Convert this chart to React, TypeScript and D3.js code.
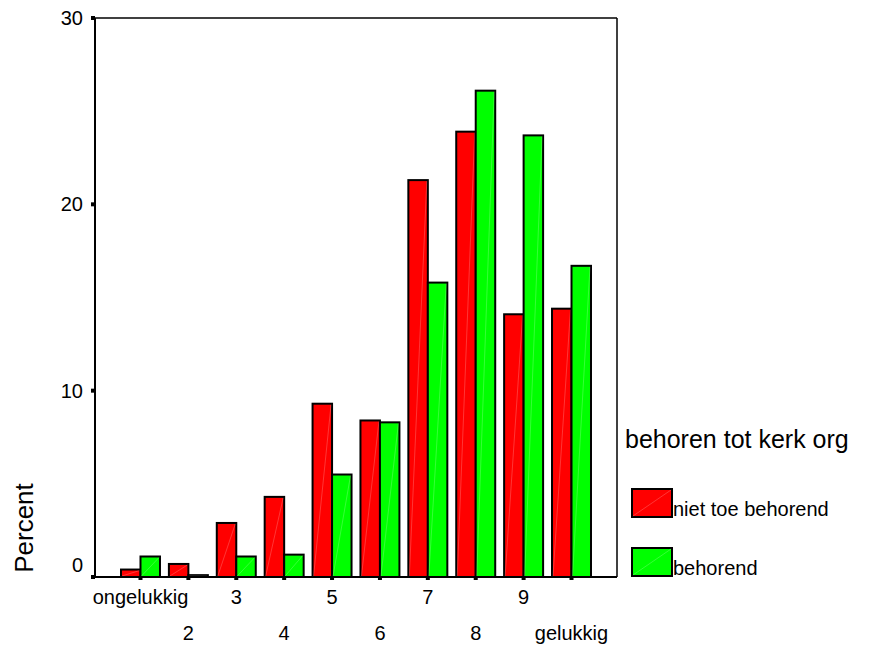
import React from "react";
import * as d3 from "d3";

const categories = ["ongelukkig", "2", "3", "4", "5", "6", "7", "8", "9", "gelukkig"];
const nietToeBehorend = [0.4, 0.7, 2.9, 4.3, 9.3, 8.4, 21.3, 23.9, 14.1, 14.4];
const behorend = [1.1, 0.1, 1.1, 1.2, 5.5, 8.3, 15.8, 26.1, 23.7, 16.7];
const seriesNames = ["niet toe behorend", "behorend"];
const seriesColors = ["#ff0000", "#00ff00"];
const yTicks = [0, 10, 20, 30];
const legendTitle = "behoren tot kerk org";
const yTitle = "Percent";

const W = 872;
const H = 646;
const left = 95;
const right = 617;
const top = 18;
const bottom = 577;
const font = "Liberation Sans, Arial, Helvetica, sans-serif";

export default function App() {
  const x = d3.scaleBand<string>().domain(categories).range([left, right]).paddingInner(0.186).paddingOuter(0.543);
  const sub = d3.scaleBand<number>().domain([0, 1]).range([0, x.bandwidth()]).padding(0);
  const y = d3.scaleLinear().domain([0, 30]).range([bottom, top]);
  const series = [nietToeBehorend, behorend];

  return (
    <div style={{ position: "absolute", left: 0, top: 0 }}>
      <svg width={W} height={H} style={{ display: "block", background: "#fff" }} fontFamily={font}>
        {/* frame */}
        <line x1={left} x2={right} y1={top} y2={top} stroke="#000" strokeWidth={1.5} />
        <line x1={right} x2={right} y1={top} y2={bottom} stroke="#000" strokeWidth={1.5} />
        {/* bars */}
        {series.map((vals, si) =>
          vals.map((v, i) => {
            const bx = (x(categories[i]) as number) + (sub(si) as number);
            const bw = sub.bandwidth();
            const by = y(v);
            const bh = y(0) - y(v);
            return (
              <g key={`${si}-${i}`}>
                <rect x={bx} y={by} width={bw} height={bh} fill={seriesColors[si]} stroke="#000" strokeWidth={2} />
                <line x1={bx + 1} y1={y(0) - 1} x2={bx + bw - 1} y2={by + 1} stroke="#fff" strokeOpacity={0.35} strokeWidth={0.6} />
              </g>
            );
          })
        )}
        {/* axes */}
        <line x1={left} x2={left} y1={top} y2={bottom} stroke="#000" strokeWidth={2} />
        <line x1={left} x2={right} y1={bottom} y2={bottom} stroke="#000" strokeWidth={2} />
        {yTicks.map((t) => (
          <g key={t}>
            <rect x={left - 4} y={y(t) - 2} width={4} height={4} fill="#000" />
            <text x={83} y={t === 0 ? 572 : y(t) + 7} textAnchor="end" fontSize={20}>
              {t}
            </text>
          </g>
        ))}
        {categories.map((c, i) => {
          const cx = (x(c) as number) + x.bandwidth() / 2;
          return (
            <g key={c}>
              <rect x={cx - 2} y={bottom - 1} width={4} height={4} fill="#000" />
              <text x={cx} y={i % 2 === 0 ? 604 : 640} textAnchor="middle" fontSize={20}>
                {c}
              </text>
            </g>
          );
        })}
        <text transform={`translate(33,528) rotate(-90)`} textAnchor="middle" fontSize={26}>
          {yTitle}
        </text>
        {/* legend */}
        <text x={625} y={448} fontSize={25}>
          {legendTitle}
        </text>
        {seriesNames.map((n, i) => {
          const ly = 489 + i * 59;
          return (
            <g key={n}>
              <rect x={632} y={ly} width={40} height={28} fill={seriesColors[i]} stroke="#000" strokeWidth={2} />
              <line x1={633} y1={ly + 27} x2={671} y2={ly + 1} stroke="#fff" strokeOpacity={0.35} strokeWidth={0.6} />
              <text x={673} y={ly + 27} fontSize={20}>
                {n}
              </text>
            </g>
          );
        })}
      </svg>
    </div>
  );
}
